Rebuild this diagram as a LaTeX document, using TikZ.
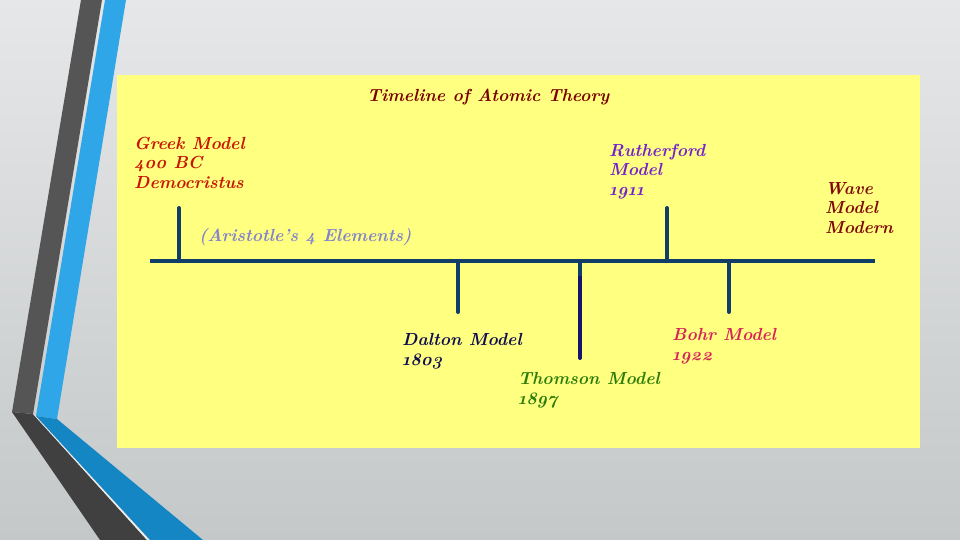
\documentclass[tikz,border=0pt]{standalone}
\usepackage{fontspec}
\setmainfont{Latin Modern Roman}[Numbers=OldStyle]
\begin{document}
\begin{tikzpicture}[x=1pt,y=-1pt]
\definecolor{bgtop}{RGB}{230,231,232}
\definecolor{bgbot}{RGB}{196,200,201}
\definecolor{paper}{RGB}{255,255,128}
\definecolor{darkstripe}{RGB}{85,85,85}
\definecolor{darkstripelow}{RGB}{64,64,64}
\definecolor{bluestripe}{RGB}{46,166,232}
\definecolor{bluestripelow}{RGB}{20,134,196}
\definecolor{tline}{RGB}{16,62,104}
\definecolor{tdark}{RGB}{20,22,110}
\definecolor{ctitle}{RGB}{122,0,0}
\definecolor{cgreek}{RGB}{200,20,0}
\definecolor{cruth}{RGB}{118,34,204}
\definecolor{cwave}{RGB}{128,8,8}
\definecolor{carist}{RGB}{132,132,204}
\definecolor{cdalton}{RGB}{14,14,80}
\definecolor{cthom}{RGB}{44,124,10}
\definecolor{cbohr}{RGB}{214,36,90}
\tikzset{
  lbl/.style={anchor=base west,align=left,inner sep=0pt,
    font=\fontsize{17.5}{19.5}\selectfont\bfseries\itshape},
  axis/.style={draw=tline,line width=4pt},
  tick/.style={draw=tline,line width=4pt,line cap=round},
}
\useasboundingbox (0,0) rectangle (960,540);
% background
\shade[top color=bgtop,bottom color=bgbot] (0,0) rectangle (960,540);
% decorative stripes
\fill[darkstripe] (81,0) -- (102,0) -- (33,414) -- (12,412) -- cycle;
\fill[bluestripe] (105,0) -- (126,0) -- (57,419) -- (36,416) -- cycle;
\fill[darkstripelow] (12,412) -- (33,414) -- (147,540) -- (100,540) -- cycle;
\fill[white!85!gray] (33,414) -- (36,416) -- (150,540) -- (147,540) -- cycle;
\fill[bluestripelow] (36,416) -- (57,419) -- (203,540) -- (150,540) -- cycle;
% paper
\fill[paper] (117,75) rectangle (920,448);
% timeline
\coordinate (L) at (150,261);
\coordinate (R) at (875,261);
\draw[axis] (L) -- (R);
\coordinate (t1a) at (179,261); \coordinate (t1b) at (179,208);
\coordinate (t2a) at (458,261); \coordinate (t2b) at (458,312);
\coordinate (t3a) at (580,261); \coordinate (t3m) at (580,276); \coordinate (t3b) at (580,358);
\coordinate (t4a) at (667,261); \coordinate (t4b) at (667,208);
\coordinate (t5a) at (729,261); \coordinate (t5b) at (729,312);
\draw[tick] (t1a) -- (t1b);
\draw[tick] (t2a) -- (t2b);
\draw[tick,draw=tdark] (t3m) -- (t3b);
\draw[axis] (t3a) -- (t3m);
\draw[tick] (t4a) -- (t4b);
\draw[tick] (t5a) -- (t5b);
% labels (anchor = baseline of last line)
\node[lbl,text=ctitle] (title) at (367,102) {Timeline of Atomic Theory};
\node[lbl,text=cgreek] (greek) at (134,188) {Greek Model\\400 BC\\Democristus};
\node[lbl,text=cruth] (ruth) at (609,195) {Rutherford\\Model\\1911};
\node[lbl,text=cwave] (wave) at (825,233) {Wave\\Model\\Modern};
\node[lbl,text=carist] (arist) at (199,241) {(Aristotle's 4 Elements)};
\node[lbl,text=cdalton] (dalton) at (402,365) {Dalton Model\\1803};
\node[lbl,text=cthom] (thom) at (518,404) {Thomson Model\\1897};
\node[lbl,text=cbohr] (bohr) at (672,360) {Bohr Model\\1922};
\end{tikzpicture}
\end{document}
